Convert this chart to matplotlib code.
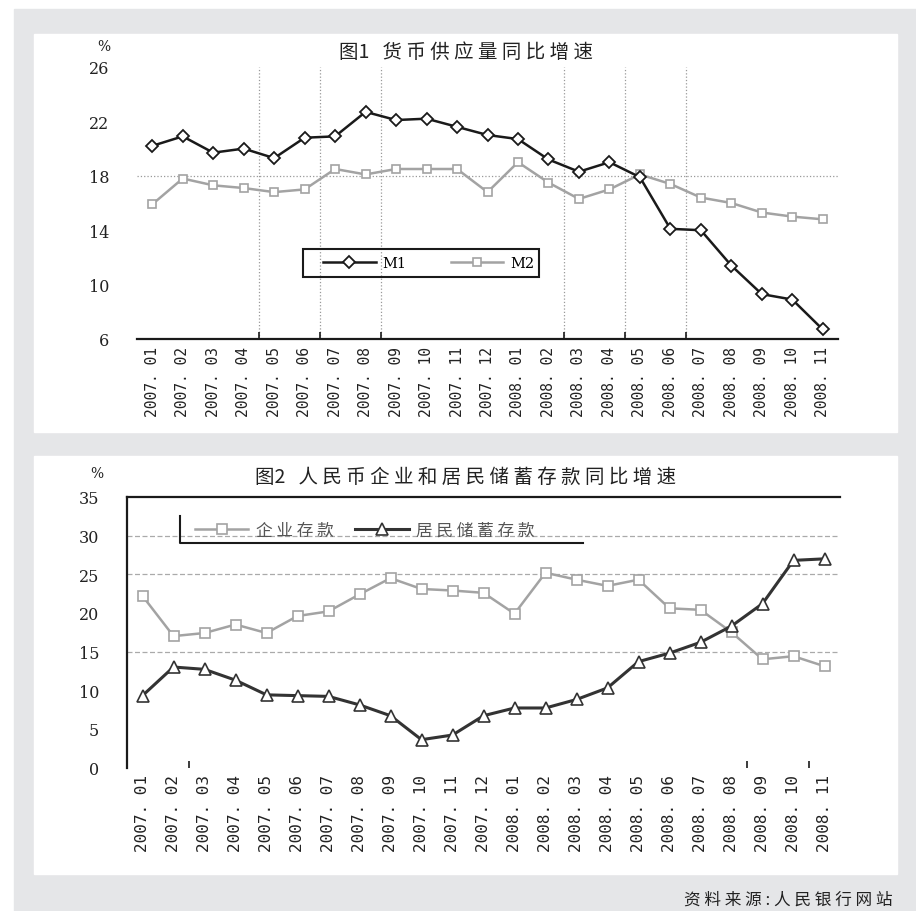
import matplotlib
matplotlib.use("Agg")
import matplotlib.pyplot as plt
from matplotlib.patches import Rectangle
from matplotlib.lines import Line2D
from matplotlib.ticker import FixedLocator

plt.rcParams['font.family'] = ['Noto Sans CJK SC', 'DejaVu Sans']

# data
months = ["2007. 01", "2007. 02", "2007. 03", "2007. 04", "2007. 05", "2007. 06",
          "2007. 07", "2007. 08", "2007. 09", "2007. 10", "2007. 11", "2007. 12",
          "2008. 01", "2008. 02", "2008. 03", "2008. 04", "2008. 05", "2008. 06",
          "2008. 07", "2008. 08", "2008. 09", "2008. 10", "2008. 11"]

m1 = [20.2, 20.9, 19.7, 20.0, 19.3, 20.8, 20.9, 22.7, 22.1, 22.2, 21.6, 21.0,
      20.7, 19.2, 18.3, 19.0, 17.9, 14.1, 14.0, 11.4, 9.3, 8.9, 6.7]
m2 = [15.9, 17.8, 17.3, 17.1, 16.8, 17.0, 18.5, 18.1, 18.5, 18.5, 18.5, 16.8,
      19.0, 17.5, 16.3, 17.0, 18.1, 17.4, 16.4, 16.0, 15.3, 15.0, 14.8]

corp = [22.2, 17.0, 17.4, 18.5, 17.4, 19.6, 20.2, 22.4, 24.5, 23.1, 22.9, 22.6,
        19.9, 25.2, 24.3, 23.5, 24.3, 20.6, 20.4, 17.5, 14.0, 14.4, 13.1]
house = [9.3, 13.0, 12.7, 11.3, 9.4, 9.3, 9.2, 8.1, 6.7, 3.6, 4.2, 6.7,
         7.7, 7.7, 8.8, 10.3, 13.7, 14.8, 16.2, 18.3, 21.2, 26.8, 27.0]

W, H = 916, 912
GREY = '#e5e6e8'
DARK = '#1a1a1a'
LIGHT = '#a3a3a3'
TXT = '#222222'

def fx(px):
    return px / W

def fy(py):
    return 1 - py / H

fig = plt.figure(figsize=(W / 100, H / 100), dpi=100)
fig.patch.set_facecolor('white')

# grey backdrop and the two white panels
fig.add_artist(Rectangle((fx(14), 0), 1 - fx(14), fy(10), transform=fig.transFigure,
                         color=GREY, zorder=-3))
for top, bot in [(35, 433), (457, 875)]:
    fig.add_artist(Rectangle((fx(34), fy(bot)), fx(897) - fx(34), fy(top) - fy(bot),
                             transform=fig.transFigure, color='white', zorder=-2))

x = list(range(len(months)))

# ---------- chart 1
ax1 = fig.add_axes([fx(137), fy(340), fx(838) - fx(137), fy(68) - fy(340)])
ax1.set_facecolor('none')
ax1.plot(x, m1, color=DARK, lw=1.8, marker='D', ms=6, mfc='white', mec=DARK, mew=1.3, zorder=4)
ax1.plot(x, m2, color=LIGHT, lw=1.8, marker='s', ms=5.5, mfc='white', mec=LIGHT, mew=1.2, zorder=3)
ax1.set_xlim(-0.5, 22.5)
ax1.set_ylim(6, 26)
ax1.set_yticks([6, 10, 14, 18, 22, 26])
ax1.axhline(18, ls=':', color='#999999', lw=0.9, zorder=1)
for s in ['left', 'right', 'top']:
    ax1.spines[s].set_visible(False)
ax1.spines['bottom'].set_linewidth(1.6)
ax1.spines['bottom'].set_color(DARK)
ax1.set_xticks(x)
ax1.set_xticklabels(months, rotation=90, family='DejaVu Sans Mono', fontsize=10.5, color=TXT)
ax1.xaxis.set_minor_locator(FixedLocator([3.5, 5.5, 7.5, 13.5, 15.5, 17.5]))
ax1.tick_params(axis='x', which='major', length=0, pad=5)
ax1.tick_params(axis='x', which='minor', direction='in', length=5, width=1.2, color=DARK)
ax1.tick_params(axis='y', length=0, pad=20)
for lab in ax1.get_yticklabels():
    lab.set_fontfamily('DejaVu Serif')
    lab.set_fontsize(11.5)
    lab.set_color(TXT)
ax1.grid(which='minor', axis='x', ls=':', color='#999999', lw=0.9)

fig.text(fx(104), fy(47), '%', ha='center', va='center', fontsize=10,
         family='DejaVu Serif', color=TXT)
fig.text(fx(466), fy(52), '图1   货 币 供 应 量 同 比 增 速', ha='center', va='center',
         fontsize=14, color=TXT, fontweight='medium')

h1 = [Line2D([], [], color=DARK, lw=1.8, marker='D', ms=6, mfc='white', mec=DARK, mew=1.3),
      Line2D([], [], color=LIGHT, lw=1.8, marker='s', ms=5.5, mfc='white', mec=LIGHT, mew=1.2)]
fig.legend(h1, ['M1', 'M2'], loc='center left', bbox_to_anchor=(fx(323), fy(264)),
           frameon=False, ncol=2, handlelength=3.6, handletextpad=0.5, columnspacing=3.0,
           borderpad=0, borderaxespad=0, prop={'family': 'DejaVu Serif', 'size': 10.5})
fig.add_artist(Rectangle((fx(303), fy(278)), fx(539) - fx(303), fy(250) - fy(278),
                         transform=fig.transFigure, fill=False, ec=DARK, lw=1.5, zorder=6))

# ---------- chart 2
ax2 = fig.add_axes([fx(127), fy(768.5), fx(840) - fx(127), fy(498) - fy(768.5)])
ax2.set_facecolor('none')
ax2.plot(x, corp, color=LIGHT, lw=1.8, marker='s', ms=7.5, mfc='white', mec=LIGHT, mew=1.2, zorder=3)
ax2.plot(x, house, color='#333333', lw=2.2, marker='^', ms=8, mfc='white', mec='#333333', mew=1.2, zorder=4)
ax2.set_xlim(-0.5, 22.5)
ax2.set_ylim(0, 35)
ax2.set_yticks(range(0, 36, 5))
for yv in [15, 25, 30]:
    ax2.axhline(yv, ls=(0, (4, 2)), color='#aaaaaa', lw=0.9, zorder=1)
for s in ['right', 'bottom']:
    ax2.spines[s].set_visible(False)
for s in ['left', 'top']:
    ax2.spines[s].set_linewidth(1.6)
    ax2.spines[s].set_color(DARK)
ax2.set_xticks(x)
ax2.set_xticklabels(months, rotation=90, family='DejaVu Sans Mono', fontsize=11.5, color=TXT)
ax2.xaxis.set_minor_locator(FixedLocator([1.5, 19.5, 21.5]))
ax2.tick_params(axis='x', which='major', length=0, pad=5)
ax2.tick_params(axis='x', which='minor', direction='in', length=5, width=1.2, color=DARK)
ax2.tick_params(axis='y', length=0, pad=20)
for lab in ax2.get_yticklabels():
    lab.set_fontfamily('DejaVu Serif')
    lab.set_fontsize(11.5)
    lab.set_color(TXT)

fig.text(fx(97), fy(474), '%', ha='center', va='center', fontsize=10,
         family='DejaVu Serif', color=TXT)
fig.text(fx(466), fy(477), '图2   人 民 币 企 业 和 居 民 储 蓄 存 款 同 比 增 速',
         ha='center', va='center', fontsize=14, color=TXT, fontweight='medium')

h2 = [Line2D([], [], color=LIGHT, lw=1.8, marker='s', ms=7.5, mfc='white', mec=LIGHT, mew=1.2),
      Line2D([], [], color='#333333', lw=2.2, marker='^', ms=8, mfc='white', mec='#333333', mew=1.2)]
fig.legend(h2, ['企 业 存 款', '居 民 储 蓄 存 款'], loc='center left',
           bbox_to_anchor=(fx(195), fy(531)), frameon=False, ncol=2, handlelength=3.2,
           handletextpad=0.45, columnspacing=1.3, borderpad=0, borderaxespad=0,
           prop={'size': 12}, labelcolor='#555555')
fig.add_artist(Line2D([fx(180), fx(180), fx(583)], [fy(517), fy(544), fy(544)],
                      transform=fig.transFigure, color=DARK, lw=1.5, zorder=6))

fig.text(fx(893), fy(900), '资 料 来 源 : 人 民 银 行 网 站', ha='right', va='center',
         fontsize=12, color=TXT, fontweight='medium')

fig.savefig('out.png', dpi=100)
